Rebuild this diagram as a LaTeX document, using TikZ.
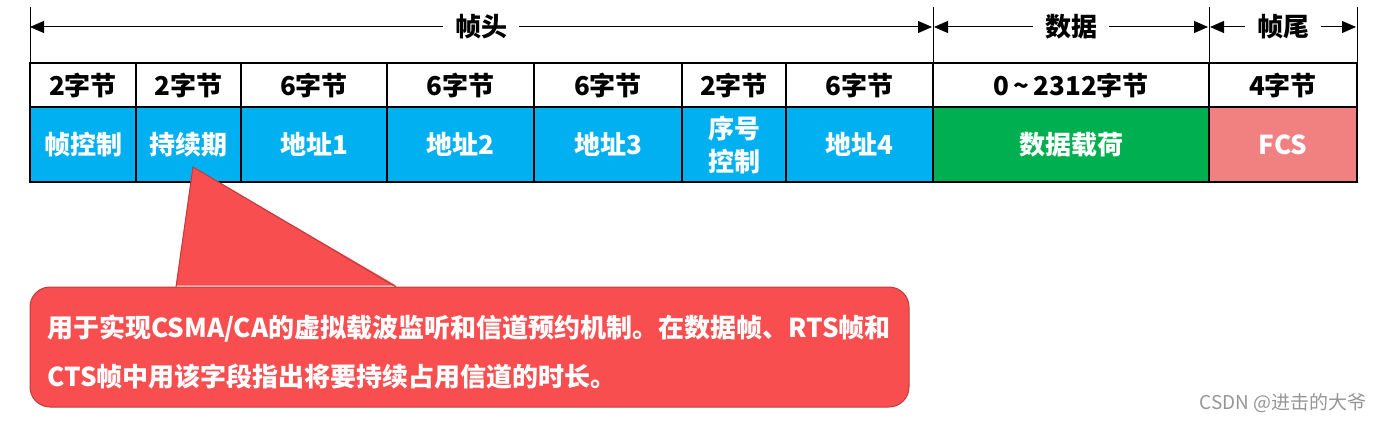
\documentclass[tikz,border=0pt]{standalone}
\usepackage{fontspec}
\setmainfont{Noto Sans CJK SC}
\usetikzlibrary{arrows.meta}
\definecolor{cblue}{RGB}{0,176,240}
\definecolor{cgreen}{RGB}{0,176,80}
\definecolor{cpink}{RGB}{241,128,128}
\definecolor{cred}{RGB}{248,78,80}
\definecolor{credline}{RGB}{190,60,60}
\definecolor{wmgray}{RGB}{150,150,150}
\newcommand\celltxt{\fontsize{26}{32}\selectfont\bfseries}
\begin{document}
\begin{tikzpicture}[x=1pt,y=-1pt,
  cellbox/.style={draw=black, line width=1.3pt, inner sep=0pt, anchor=center, align=center, font=\celltxt},
  headcell/.style={cellbox, fill=white, minimum height=44pt},
  bodycell/.style={cellbox, minimum height=75pt, text=white},
  toplbl/.style={inner xsep=12pt, inner ysep=0pt, font=\celltxt},
  tickline/.style={line width=0.9pt},
  harrow/.style={line width=1pt, -{Triangle[length=14pt,width=12pt]}},
  calloutbox/.style={draw=credline, line width=1pt, fill=cred, rounded corners=20pt},
  wm/.style={text=wmgray, font=\fontsize{19}{22}\selectfont}
]
\useasboundingbox (0,0) rectangle (1383,422);

% header row (byte counts)
\node[headcell, minimum width=106pt] (h1) at (83,85) {2字节};
\node[headcell, minimum width=105pt] (h2) at (188.5,85) {2字节};
\node[headcell, minimum width=146pt] (h3) at (314,85) {6字节};
\node[headcell, minimum width=147pt] (h4) at (460.5,85) {6字节};
\node[headcell, minimum width=148pt] (h5) at (608,85) {6字节};
\node[headcell, minimum width=104pt] (h6) at (734,85) {2字节};
\node[headcell, minimum width=147pt] (h7) at (859.5,85) {6字节};
\node[headcell, minimum width=276pt] (h8) at (1071,85) {0\,\textasciitilde\,2312字节};
\node[headcell, minimum width=148pt] (h9) at (1283,85) {4字节};

% body row (fields)
\node[bodycell, fill=cblue, minimum width=106pt] (b1) at (83,144.5) {帧控制};
\node[bodycell, fill=cblue, minimum width=105pt] (b2) at (188.5,144.5) {持续期};
\node[bodycell, fill=cblue, minimum width=146pt] (b3) at (314,144.5) {地址1};
\node[bodycell, fill=cblue, minimum width=147pt] (b4) at (460.5,144.5) {地址2};
\node[bodycell, fill=cblue, minimum width=148pt] (b5) at (608,144.5) {地址3};
\node[bodycell, fill=cblue, minimum width=104pt] (b6) at (734,144.5) {序号\\[1pt]控制};
\node[bodycell, fill=cblue, minimum width=147pt] (b7) at (859.5,144.5) {地址4};
\node[bodycell, fill=cgreen, minimum width=276pt] (b8) at (1071,144.5) {数据载荷};
\node[bodycell, fill=cpink, minimum width=148pt] (b9) at (1283,144.5) {FCS};

% ticks
\coordinate (t0) at (30,7);
\coordinate (t1) at (933,7);
\coordinate (t2) at (1209,7);
\coordinate (t3) at (1357,7);
\draw[tickline] (t0) -- (t0 |- h1.north);
\draw[tickline] (t1) -- (t1 |- h1.north);
\draw[tickline] (t2) -- (t2 |- h1.north);
\draw[tickline] (t3) -- (t3 |- h1.north);

% top labels with arrows
\node[toplbl] (lhead) at (481,27) {帧头};
\node[toplbl] (ldata) at (1071,27) {数据};
\node[toplbl] (ltail) at (1283,27) {帧尾};
\draw[harrow] (lhead.west) -- (lhead.west -| t0);
\draw[harrow] (lhead.east) -- ([xshift=-1pt]lhead.east -| t1);
\draw[harrow] (ldata.west) -- ([xshift=1pt]ldata.west -| t1);
\draw[harrow] (ldata.east) -- ([xshift=-1pt]ldata.east -| t2);
\draw[harrow] (ltail.west) -- ([xshift=1pt]ltail.west -| t2);
\draw[harrow] (ltail.east) -- ([xshift=-1pt]ltail.east -| t3);

% callout
\node[calloutbox, minimum width=879pt, minimum height=120pt, inner sep=0pt] (callout) at (469.5,347) {};
\coordinate (ptip) at (193,167);
\coordinate (pl) at (176,287);
\coordinate (pr) at (396,287);
\fill[cred] ([yshift=1.5pt]pl) -- (ptip) -- ([yshift=1.5pt]pr) -- cycle;
\draw[credline, line width=1pt, line join=round] (pl) -- (ptip) -- (pr);
\node[anchor=west, align=left, text=white, inner sep=0pt,
      font=\fontsize{26}{49}\selectfont\bfseries] (ctext) at (47,352)
  {用于实现CSMA/CA的虚拟载波监听和信道预约机制。在数据帧、RTS帧和\\CTS帧中用该字段指出将要持续占用信道的时长。};

% watermark
\node[wm, anchor=east, inner sep=0pt] (wmark) at (1367,403) {CSDN @进击的大爷};
\end{tikzpicture}
\end{document}
